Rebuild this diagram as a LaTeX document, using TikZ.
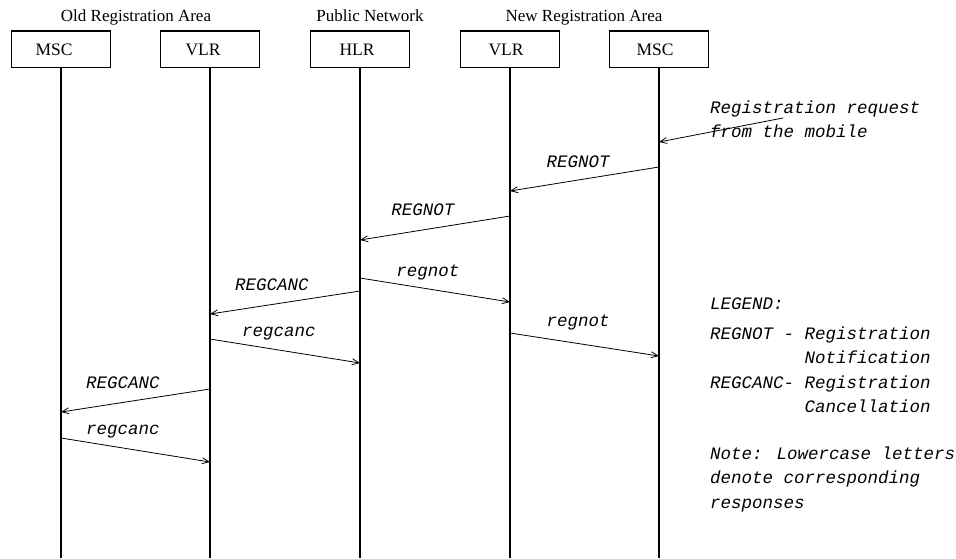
\documentclass[tikz,border=0pt]{standalone}
\usepackage{fontspec}
\setmainfont{Liberation Serif}
\newfontfamily\courit{Liberation Mono}[ItalicFont={* Italic}]
\usetikzlibrary{arrows.meta}
\begin{document}
\begin{tikzpicture}[x=1pt,y=-1pt,
  head/.style={font=\fontsize{17}{20}\selectfont, inner sep=0pt, anchor=base},
  entity/.style={draw, line width=1.2pt, minimum width=99pt, minimum height=36pt, inner sep=0pt},
  ename/.style={font=\fontsize{17.5}{20}\selectfont, inner sep=0pt, anchor=base},
  life/.style={line width=1.8pt},
  msg/.style={line width=0.8pt, -{Straight Barb[length=7pt,width=6pt,line width=0.8pt]}},
  lab/.style={font=\courit\itshape\fontsize{17.5}{24}\selectfont, inner sep=0pt},
  note/.style={font=\courit\itshape\fontsize{17.5}{24.5}\selectfont, inner sep=0pt, align=left}]
\useasboundingbox (0,0) rectangle (956,558);
% headings
\node[head] (h1) at (136,21) {Old Registration Area};
\node[head] (h2) at (370,21) {Public Network};
\node[head] (h3) at (584,21) {New Registration Area};
% entities
\node[entity] (e1) at (61,49.5) {};
\node[entity] (e2) at (210,49.5) {};
\node[entity] (e3) at (360,49.5) {};
\node[entity] (e4) at (510,49.5) {};
\node[entity] (e5) at (659,49.5) {};
\node[ename] (t1) at (54,55) {MSC};
\node[ename] (t2) at (203,55) {VLR};
\node[ename] (t3) at (357,55) {HLR};
\node[ename] (t4) at (506,55) {VLR};
\node[ename] (t5) at (655,55) {MSC};
\foreach \i in {1,...,5}{
  \draw[line width=2pt] (e\i.north west) -- (e\i.north east);
  \coordinate (b\i) at (e\i.south |- 0,558);
  \draw[life] (e\i.south) -- (b\i);
}
% mobile request
\coordinate (r0) at (783,118);
\coordinate (r1) at (e5.south |- 0,142);
\draw[msg] (r0) -- (r1);
\node[note, anchor=west] (req) at (710,119) {Registration request\\from the mobile};

% messages
\coordinate (a1) at (e5.south |- 0,167);
\coordinate (a2) at (e4.south |- 0,191);
\draw[msg] (a1) -- (a2);
\node[lab] (l1) at (578,162) {REGNOT};

\coordinate (c1) at (e4.south |- 0,216);
\coordinate (c2) at (e3.south |- 0,240);
\draw[msg] (c1) -- (c2);
\node[lab] (l2) at (423,210) {REGNOT};

\coordinate (d1) at (e3.south |- 0,278);
\coordinate (d2) at (e4.south |- 0,302);
\draw[msg] (d1) -- (d2);
\node[lab] (l3) at (428,272) {regnot};

\coordinate (f1) at (e3.south |- 0,291);
\coordinate (f2) at (e2.south |- 0,314);
\draw[msg] (f1) -- (f2);
\node[lab] (l4) at (272,285) {REGCANC};

\coordinate (g1) at (e2.south |- 0,339);
\coordinate (g2) at (e3.south |- 0,363);
\draw[msg] (g1) -- (g2);
\node[lab] (l5) at (279,334) {regcanc};

\coordinate (k1) at (e4.south |- 0,333);
\coordinate (k2) at (e5.south |- 0,356);
\draw[msg] (k1) -- (k2);
\node[lab] (l6) at (578,322) {regnot};

\coordinate (m1) at (e2.south |- 0,389);
\coordinate (m2) at (e1.south |- 0,412);
\draw[msg] (m1) -- (m2);
\node[lab] (l7) at (123,383) {REGCANC};

\coordinate (n1) at (e1.south |- 0,438);
\coordinate (n2) at (e2.south |- 0,462);
\draw[msg] (n1) -- (n2);
\node[lab] (l8) at (123,432) {regcanc};

% legend
\node[note, anchor=north west] (leg) at (710,298) {LEGEND:\\[5pt]REGNOT - Registration\\\phantom{REGNOT - }Notification\\REGCANC- Registration\\\phantom{REGCANC- }Cancellation\\[22pt]Note: Lowercase letters\\denote corresponding\\responses};
\end{tikzpicture}
\end{document}
